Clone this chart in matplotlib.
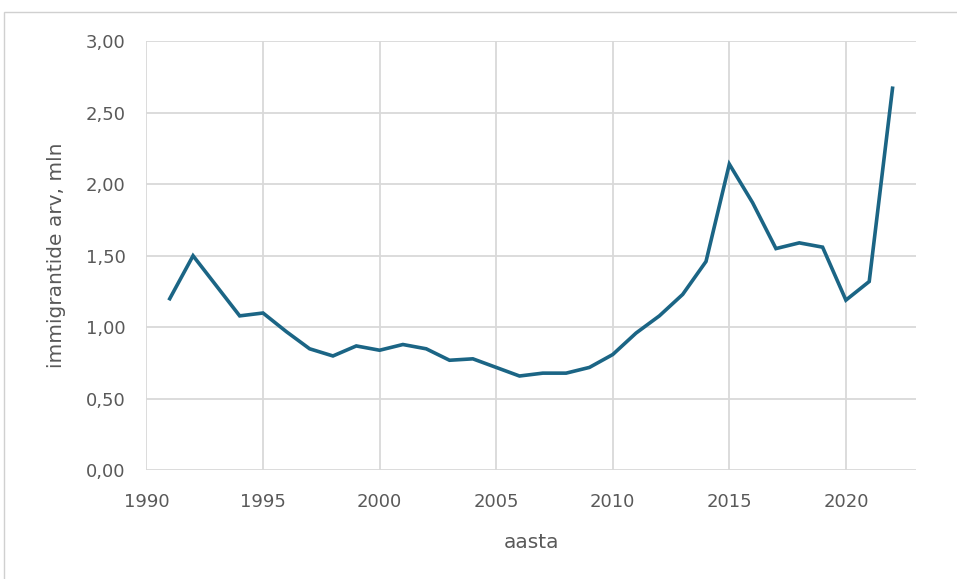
import matplotlib.pyplot as plt
from matplotlib.patches import Rectangle
from matplotlib.ticker import FuncFormatter

years = list(range(1991, 2023))
values = [1.20, 1.50, 1.29, 1.08, 1.10, 0.97, 0.85, 0.80, 0.87, 0.84,
          0.88, 0.85, 0.77, 0.78, 0.72, 0.66, 0.68, 0.68, 0.72, 0.81,
          0.96, 1.08, 1.23, 1.46, 2.14, 1.87, 1.55, 1.59, 1.56, 1.19,
          1.32, 2.67]
xticks = [1990, 1995, 2000, 2005, 2010, 2015, 2020]
yticks = [0.0, 0.5, 1.0, 1.5, 2.0, 2.5, 3.0]

plt.rcParams['font.family'] = ['DejaVu Sans']
textc = '#595959'
gridc = '#d9d9d9'

fig = plt.figure(figsize=(9.57, 5.79), dpi=100)
ax = fig.add_axes([0.153, 0.1874, 0.804, 0.7418])

# chart frame, cut off at right and bottom like the original
fig.patches.append(Rectangle((4 / 957, -0.1), 1.2, 1 - 12 / 579 + 0.1,
                             transform=fig.transFigure, fill=False,
                             edgecolor='#d0d0d0', linewidth=1))

ax.plot(years, values, color='#1b6585', linewidth=2.6,
        solid_joinstyle='miter', zorder=3)

ax.set_xlim(1990, 2023)
ax.set_ylim(0, 3)
ax.set_xticks(xticks)
ax.set_yticks(yticks)
ax.yaxis.set_major_formatter(FuncFormatter(lambda v, p: f"{v:.2f}".replace('.', ',')))
ax.grid(True, color=gridc, linewidth=1.3)
ax.set_axisbelow(True)
for s in ax.spines.values():
    s.set_visible(False)
ax.tick_params(length=0, labelsize=13, colors=textc)
ax.tick_params(axis='y', pad=15)
ax.tick_params(axis='x', pad=16)

ax.set_xlabel("aasta", fontsize=14.5, color=textc, labelpad=16)
ax.set_ylabel("immigrantide arv, mln", fontsize=14.5, color=textc, labelpad=14)

fig.savefig("out.png", dpi=100)
